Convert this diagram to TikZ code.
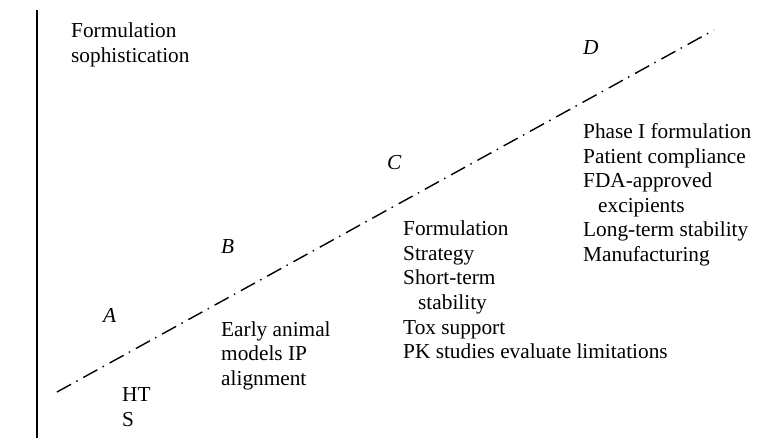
\documentclass[tikz,border=0pt]{standalone}
\usepackage{fontspec}
\setmainfont{Liberation Serif}
% left-aligned block of lines; the base anchor sits on the first line
\newcommand\linesof[1]{\begin{tabular}[t]{@{}l@{}}#1\end{tabular}}
\newcommand\indentln{\hspace*{15pt}}
\begin{document}
\begin{tikzpicture}[x=1pt,y=-1pt,
  lbl/.style={inner sep=0pt, anchor=base west, font=\fontsize{21.3}{24.5}\selectfont},
  phase/.style={lbl, font=\fontsize{21.3}{24.5}\selectfont\itshape},
  trend/.style={line width=1.4pt, dash pattern=on 16pt off 6pt on 1.5pt off 6.5pt},
  axisline/.style={line width=2pt}]
\useasboundingbox (0,0) rectangle (762,438);

% vertical axis
\coordinate (axtop) at (37,10);
\coordinate (axbot) at (37,438);
\draw[axisline] (axtop) -- (axbot);

% dash-dot trend line
\coordinate (tstart) at (57,392);
\coordinate (tend) at (714,30);
\draw[trend] (tstart) -- (tend);

% axis title
\node[lbl] (title) at (71,37.7) {\linesof{Formulation\\sophistication}};

% phase letters
\node[phase] (pA) at (103,322) {A};
\node[phase] (pB) at (221,253) {B};
\node[phase] (pC) at (387,170) {C};
\node[phase] (pD) at (583,55) {D};

% phase contents
\node[lbl] (lA) at (122,401.7) {\linesof{HT\\S}};
\node[lbl] (lB) at (221,336) {\linesof{Early animal\\models IP\\alignment}};
\node[lbl] (lC) at (403,236) {\linesof{Formulation\\Strategy\\Short-term\\\indentln stability\\Tox support\\PK studies evaluate limitations}};
\node[lbl] (lD) at (583,139) {\linesof{Phase I formulation\\Patient compliance\\FDA-approved\\\indentln excipients\\Long-term stability\\Manufacturing}};
\end{tikzpicture}
\end{document}
